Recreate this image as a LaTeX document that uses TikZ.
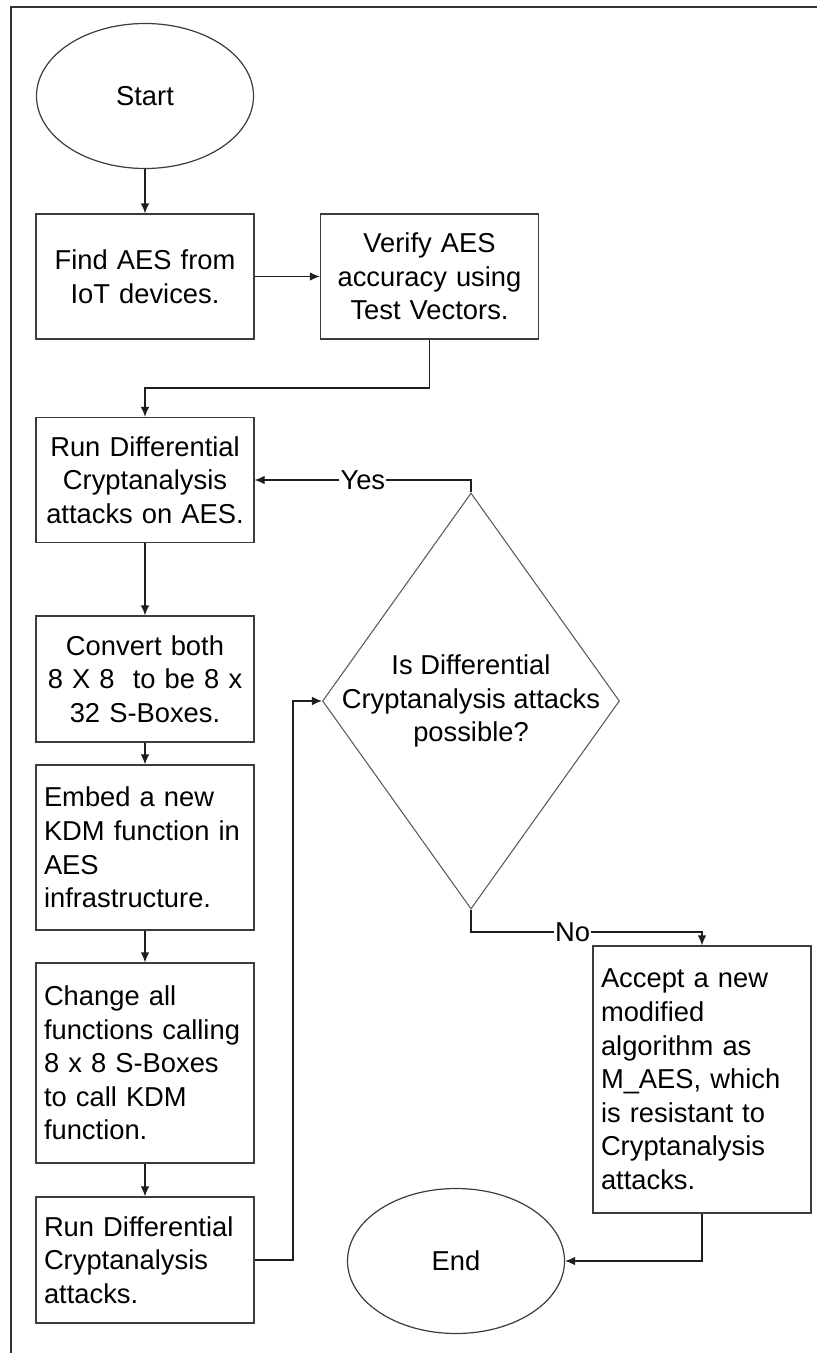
\documentclass[tikz,border=0pt]{standalone}
\usepackage{fontspec}
\setmainfont{Liberation Sans}
\usetikzlibrary{arrows.meta,shapes.geometric}
\definecolor{boxc}{HTML}{3C3C3C}
\definecolor{diac}{HTML}{5A5A5A}
\definecolor{linec}{HTML}{1E1E1E}
\newcommand{\ftext}{\fontsize{20.5pt}{25.2pt}\selectfont}
\tikzset{
  cbox/.style={draw=boxc, line width=1pt, text width=151.5pt, inner xsep=6pt, inner ysep=0pt, minimum height=#1, align=center, font=\ftext},
  lbox/.style={cbox=#1, align=left},
  term/.style={draw=boxc, line width=0.9pt, ellipse, minimum width=162.75pt, minimum height=108.75pt, inner sep=0pt, font=\ftext},
  decision/.style={draw=diac, line width=0.8pt, diamond, minimum width=222.75pt, minimum height=312pt, inner sep=0pt},
  conn/.style={draw=linec, line width=1pt},
  arr/.style={conn, -{Latex[length=7.5pt,width=6.5pt]}},
  lbl/.style={fill=white, inner sep=1pt, font=\ftext}
}
\begin{document}
\begin{tikzpicture}[x=0.75pt, y=-0.75pt]
\useasboundingbox (0,0) rectangle (817,1353);
% frame
\draw[line width=1.4pt, draw=black!80] (11,1353) -- (11,7) -- (817,7);

\node[term] (start) at (145,96) {Start};
\node[cbox=93.75pt] (find) at (145,276.5) {Find AES from\\IoT devices.};
\node[cbox=93.75pt] (verify) at (429.5,276.5) {Verify AES\\accuracy using\\Test Vectors.};
\node[cbox=93.75pt] (rundc) at (145,480) {Run Differential\\Cryptanalysis\\attacks on AES.};
\node[cbox=94.5pt] (convert) at (145,679) {Convert both\\8 X 8~ to be 8 x\\32 S-Boxes.};
\node[lbox=123.75pt] (embed) at (145,847.5) {Embed a new\\KDM function in\\AES\\infrastructure.};
\node[lbox=150pt] (change) at (145,1063) {Change all\\functions calling\\8 x 8 S-Boxes\\to call KDM\\function.};
\node[lbox=94.5pt] (rundc2) at (145,1260) {Run Differential\\Cryptanalysis\\attacks.};
\node[decision] (dia) at (471,701) {};
\node[font=\ftext, align=center, inner sep=0pt] (diatext) at (471,701) {Is Differential\\Cryptanalysis attacks\\possible?};
\node[lbox=200.25pt] (accept) at (702,1079.5) {Accept a new\\modified\\algorithm as\\M\_AES, which\\is resistant to\\Cryptanalysis\\attacks.};
\node[term] (end) at (456,1261) {End};

\coordinate (vturn) at (429.5,388);
\coordinate (rturn) at (293,1260);
\coordinate (nturn) at (471,932);

\draw[arr] (start) -- (find);
\draw[arr] (find) -- (verify);
\draw[arr] (verify.south) -- (vturn) -| (rundc.north);
\draw[arr] (rundc) -- (convert);
\draw[arr] (convert) -- (embed);
\draw[arr] (embed) -- (change);
\draw[arr] (change) -- (rundc2);
\draw[arr] (rundc2.east) -- (rturn) |- (dia.west);
\draw[arr] (dia.north) |- node[lbl, pos=0.75] {Yes} (rundc.east);
\draw[arr] (dia.south) -- (nturn) -| node[lbl, pos=0.22] {No} (accept.north);
\draw[arr] (accept.south) |- (end.east);
\end{tikzpicture}
\end{document}
